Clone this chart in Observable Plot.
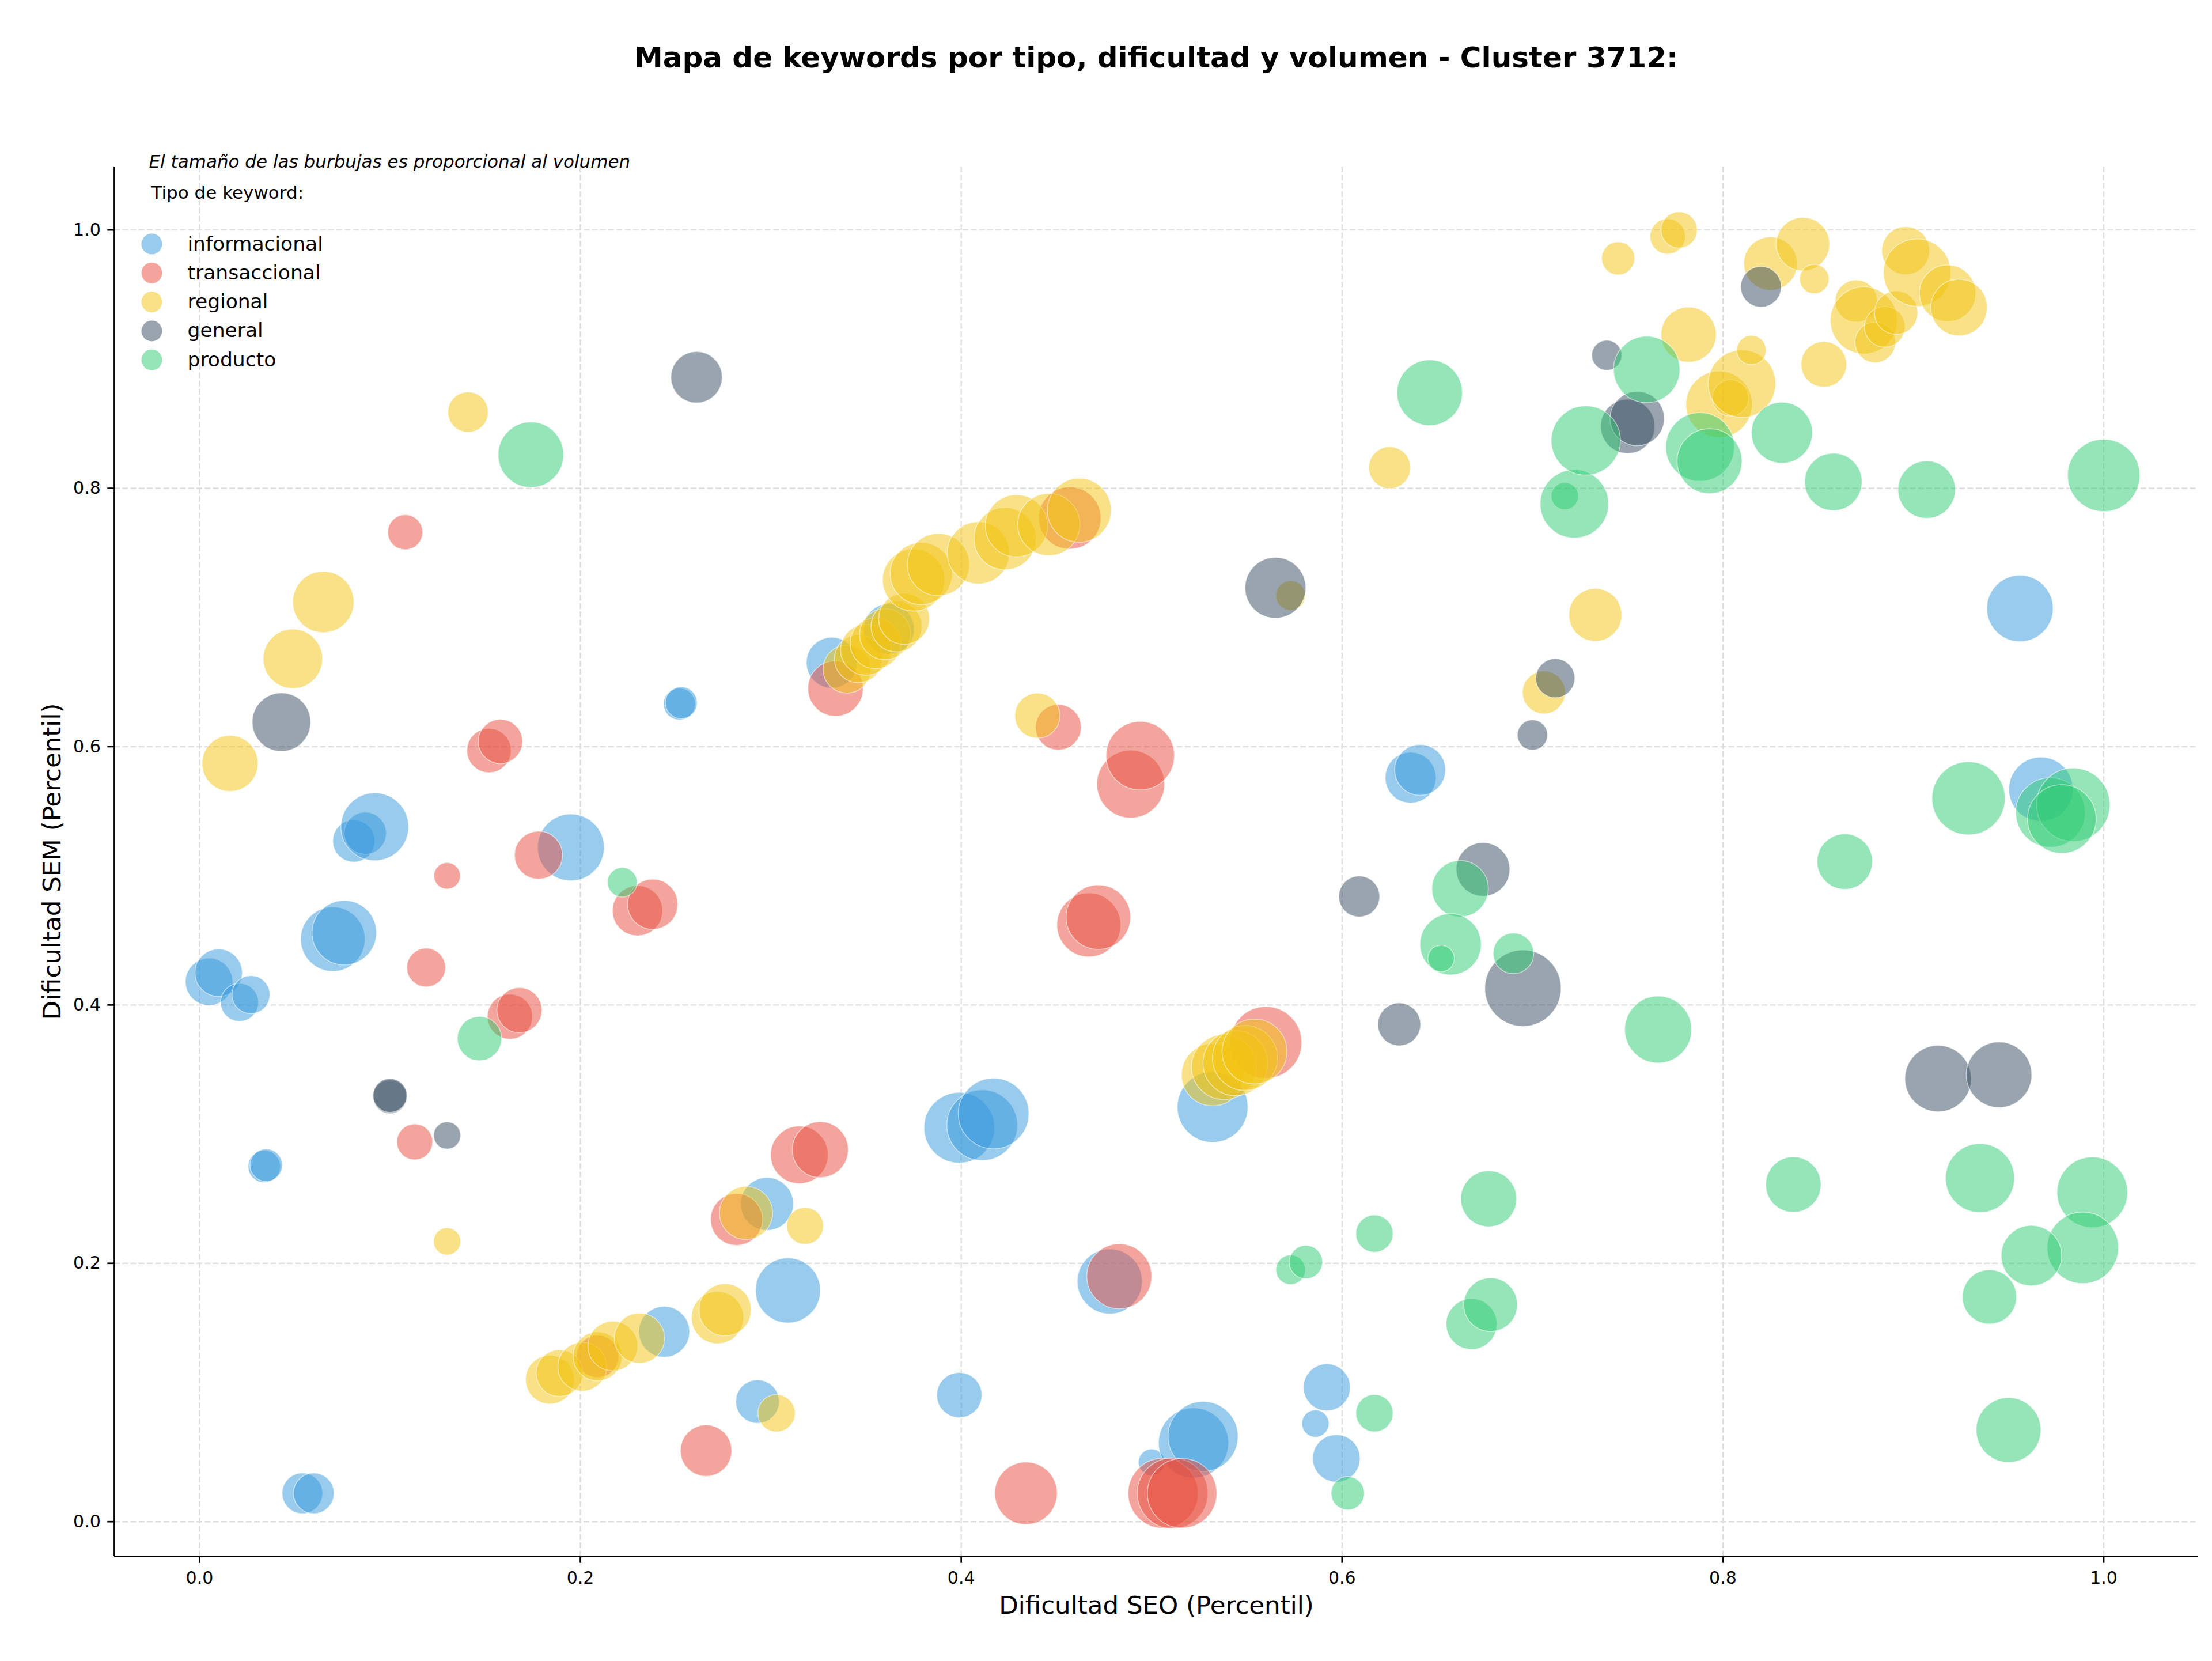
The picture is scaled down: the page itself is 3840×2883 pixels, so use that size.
<!DOCTYPE html>
<html>
<head>
<meta charset="utf-8">
<script src="https://cdn.jsdelivr.net/npm/d3@7"></script>
<script src="https://cdn.jsdelivr.net/npm/@observablehq/plot@0.6"></script>
<style>
  body { margin: 0; background: #fff; font-family: "DejaVu Sans", sans-serif; }
  #titulo {
    height: 200px; margin-left: 198px; width: 3618px;
    display: flex; align-items: center; justify-content: center;
    font-weight: bold; font-size: 50px; color: #000;
  }
  #chart svg { display: block; }
</style>
</head>
<body>
<div id="titulo">Mapa de keywords por tipo, dificultad y volumen - Cluster 3712:</div>
<div id="chart"></div>
<script>
// Tipos de keyword y su color
const tipos = ["informacional", "transaccional", "regional", "general", "producto"];
const colores = ["#3498db", "#e74c3c", "#f1c40f", "#34495e", "#2ecc71"];
const ticks = [0, 0.2, 0.4, 0.6, 0.8, 1.0];

// [dificultad SEO, dificultad SEM, volumen]
const informacional = [
  [0.005,0.418,1800],[0.010,0.425,1800],[0.021,0.402,1150],[0.027,0.408,1150],
  [0.070,0.451,3320],[0.076,0.456,3320],[0.081,0.527,1420],[0.087,0.533,1420],
  [0.092,0.538,3670],[0.034,0.275,840],[0.035,0.276,840],[0.054,0.022,1320],
  [0.060,0.022,1320],[0.195,0.522,3550],[0.252,0.633,810],[0.253,0.634,810],
  [0.332,0.665,2070],[0.362,0.691,2070],[0.244,0.147,2070],[0.298,0.246,2230],
  [0.309,0.179,3370],[0.293,0.093,1510],[0.399,0.305,3990],[0.411,0.307,3990],
  [0.417,0.316,3990],[0.399,0.098,1630],[0.532,0.321,3990],[0.478,0.186,3370],
  [0.500,0.046,560],[0.522,0.061,3920],[0.527,0.066,3920],[0.592,0.104,1760],
  [0.586,0.076,590],[0.597,0.049,1800],[0.636,0.576,2070],[0.641,0.582,2070],
  [0.956,0.707,3520],[0.967,0.567,3290]
];
const transaccional = [
  [0.108,0.766,980],[0.152,0.597,1570],[0.158,0.604,1570],[0.130,0.500,560],
  [0.178,0.516,1840],[0.119,0.429,1200],[0.163,0.391,1630],[0.168,0.396,1630],
  [0.113,0.294,1030],[0.230,0.473,2020],[0.238,0.478,2020],[0.315,0.284,2650],
  [0.326,0.288,2500],[0.282,0.234,2160],[0.266,0.055,2110],[0.209,0.128,1430],
  [0.334,0.645,2450],[0.451,0.615,1670],[0.457,0.777,3090],[0.489,0.571,3670],
  [0.494,0.593,3740],[0.467,0.462,3260],[0.472,0.468,3320],[0.483,0.190,3370],
  [0.434,0.022,3120],[0.506,0.022,3920],[0.511,0.022,3990],[0.516,0.022,3860],
  [0.560,0.371,4120]
];
const regional = [
  [0.141,0.859,1300],[0.065,0.712,3000],[0.049,0.668,2810],[0.016,0.587,2500],
  [0.130,0.217,590],[0.184,0.110,1910],[0.189,0.115,1740],[0.201,0.120,1910],
  [0.209,0.128,1910],[0.217,0.136,1980],[0.231,0.142,2020],[0.272,0.158,2180],
  [0.276,0.164,2180],[0.287,0.239,2250],[0.303,0.084,1110],[0.318,0.229,1080],
  [0.340,0.660,1840],[0.346,0.668,1840],[0.350,0.675,2070],[0.355,0.680,2070],
  [0.360,0.687,2070],[0.366,0.693,2070],[0.370,0.699,2070],[0.375,0.729,3090],
  [0.379,0.734,3090],[0.388,0.741,3090],[0.409,0.750,3090],[0.423,0.761,3090],
  [0.429,0.771,3090],[0.446,0.772,3090],[0.462,0.783,3260],[0.440,0.624,1630],
  [0.532,0.346,3090],[0.538,0.352,3370],[0.544,0.355,3370],[0.549,0.359,3370],
  [0.554,0.364,3370],[0.573,0.717,700],[0.625,0.816,1400],[0.733,0.702,2230],
  [0.706,0.642,1470],[0.745,0.978,870],[0.771,0.995,1000],[0.777,1.000,1050],
  [0.782,0.919,2430],[0.798,0.865,3520],[0.804,0.870,1050],[0.810,0.881,3640],
  [0.815,0.907,690],[0.825,0.974,2280],[0.842,0.989,2280],[0.848,0.962,690],
  [0.853,0.896,1670],[0.870,0.945,1420],[0.874,0.930,3580],[0.880,0.913,1320],
  [0.885,0.925,1320],[0.891,0.936,1510],[0.896,0.984,1840],[0.902,0.967,3640],
  [0.918,0.951,2550],[0.924,0.940,2550]
];
const general = [
  [0.261,0.886,2110],[0.043,0.619,2730],[0.100,0.329,920],[0.100,0.330,920],
  [0.130,0.299,590],[0.565,0.723,2950],[0.609,0.484,1340],[0.630,0.385,1470],
  [0.674,0.505,2300],[0.695,0.413,4650],[0.700,0.609,730],[0.712,0.653,1220],
  [0.739,0.903,720],[0.750,0.848,2350],[0.755,0.854,2350],[0.820,0.956,1320],
  [0.913,0.343,3520],[0.945,0.346,3430]
];
const producto = [
  [0.174,0.826,3430],[0.222,0.495,700],[0.147,0.374,1570],[0.573,0.195,700],
  [0.581,0.201,890],[0.617,0.223,1110],[0.617,0.084,1110],[0.603,0.022,890],
  [0.668,0.153,2070],[0.678,0.168,2300],[0.677,0.250,2500],[0.662,0.490,2550],
  [0.657,0.447,3000],[0.652,0.436,560],[0.690,0.440,1320],[0.646,0.874,3430],
  [0.717,0.794,590],[0.722,0.788,3740],[0.728,0.837,3830],[0.760,0.892,3520],
  [0.788,0.832,3770],[0.793,0.821,3370],[0.831,0.843,2980],[0.858,0.805,2630],
  [0.907,0.799,2630],[1.000,0.810,4180],[0.766,0.381,3580],[0.864,0.511,2450],
  [0.929,0.560,4280],[0.972,0.549,3860],[0.984,0.555,4310],[0.978,0.544,3770],
  [0.837,0.261,2450],[0.935,0.266,3800],[0.994,0.255,3990],[0.989,0.212,4080],
  [0.962,0.206,2920],[0.940,0.174,2350],[0.950,0.071,3350]
];

// Tabla larga, en el orden de dibujo por tipo
const porTipo = {informacional, transaccional, regional, general, producto};
const keywords = tipos.flatMap(tipo =>
  porTipo[tipo].map(([seo, sem, volumen]) => ({tipo, seo, sem, volumen}))
);

// Márgenes automáticos del 5 % sobre el rango de los datos
const pad = (ext) => { const d = (ext[1] - ext[0]) * 0.05; return [ext[0] - d, ext[1] + d]; };
const xDom = pad(d3.extent(keywords, d => d.seo));
const yDom = pad(d3.extent(keywords, d => d.sem));
const fmt = d3.format(".1f");

// Leyenda de tipos dentro del área del gráfico, arriba a la izquierda
const legendMarks = tipos.flatMap((t, i) => [
  Plot.dot([t], {frameAnchor: "top-left", dx: 65, dy: 134 + 50.3 * i, r: 18,
    fill: d => d, fillOpacity: 0.5}),
  Plot.text([t], {frameAnchor: "top-left", dx: 127, dy: 134 + 50.3 * i, text: d => d,
    textAnchor: "start", lineAnchor: "middle", fontSize: 34.5})
]);

const chart = Plot.plot({
  width: 3840,
  height: 2683,
  marginTop: 89,
  marginBottom: 182,
  marginLeft: 198,
  marginRight: 24,
  style: {fontFamily: "DejaVu Sans, sans-serif", fontSize: "30px", color: "#000", background: "#fff"},
  x: {domain: xDom},
  y: {domain: yDom},
  r: {type: "sqrt", domain: [0, 5000], range: [0, 68.6]},
  color: {domain: tipos, range: colores},
  marks: [
    Plot.gridX(ticks, {stroke: "#dedede", strokeOpacity: 1, strokeWidth: 2.4, strokeDasharray: "10,4.3"}),
    Plot.gridY(ticks, {stroke: "#dedede", strokeOpacity: 1, strokeWidth: 2.4, strokeDasharray: "10,4.3"}),
    Plot.dot(keywords, {
      x: "seo", y: "sem", r: "volumen", fill: "tipo", fillOpacity: 0.5,
      stroke: "white", strokeOpacity: 0.5, strokeWidth: 1.6, sort: null
    }),
    Plot.ruleX([xDom[0]], {stroke: "#000", strokeWidth: 2.7}),
    Plot.ruleY([yDom[0]], {stroke: "#000", strokeWidth: 2.7}),
    Plot.axisX(ticks, {tickSize: 11.7, tickPadding: 14, tickFormat: fmt, fontSize: 30, strokeWidth: 2.7, label: null}),
    Plot.axisY(ticks, {tickSize: 11.7, tickPadding: 12, tickFormat: fmt, fontSize: 30, strokeWidth: 2.7, label: null}),
    Plot.text(["Dificultad SEO (Percentil)"], {frameAnchor: "bottom", dy: 86, text: d => d,
      textAnchor: "middle", lineAnchor: "middle", fontSize: 43.5}),
    Plot.text(["Dificultad SEM (Percentil)"], {frameAnchor: "left", dx: -107, rotate: -90, text: d => d,
      textAnchor: "middle", lineAnchor: "middle", fontSize: 43.5}),
    Plot.text(["El tamaño de las burbujas es proporcional al volumen"], {
      frameAnchor: "top-left", dx: 60, dy: -8, text: d => d, textAnchor: "start", lineAnchor: "middle",
      fontStyle: "italic", fontSize: 31}),
    Plot.text(["Tipo de keyword:"], {frameAnchor: "top-left", dx: 64, dy: 46, text: d => d,
      textAnchor: "start", lineAnchor: "middle", fontSize: 31}),
    ...legendMarks
  ]
});
document.getElementById("chart").appendChild(chart);
</script>
</body>
</html>
